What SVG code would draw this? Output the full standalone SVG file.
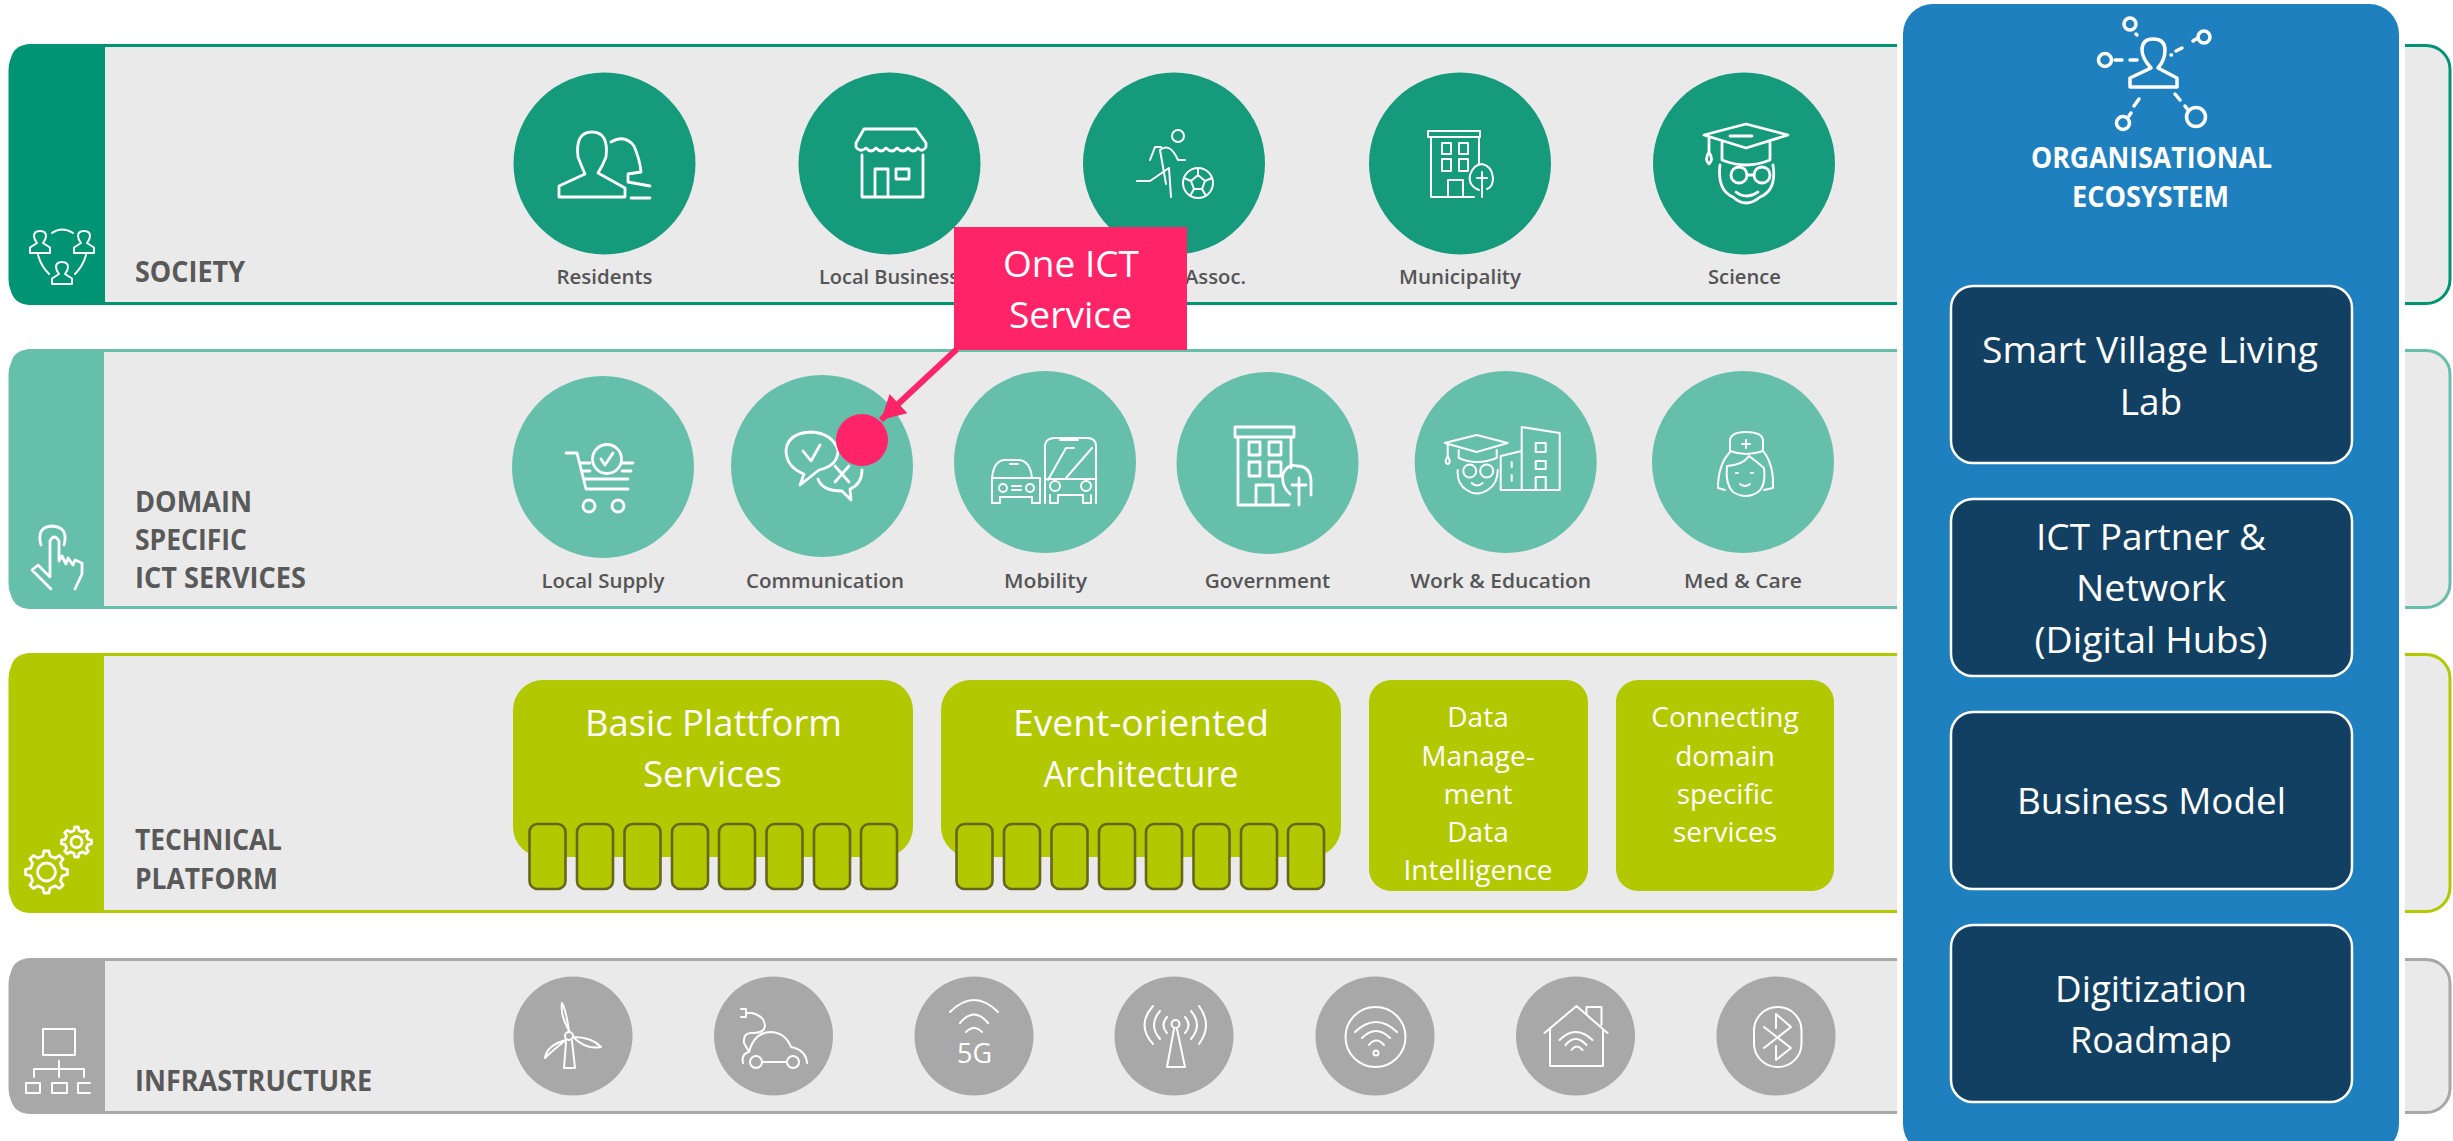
<svg xmlns="http://www.w3.org/2000/svg" xmlns:xlink="http://www.w3.org/1999/xlink" width="2453" height="1141" viewBox="0 0 2453 1141">
<style>
text{font-family:"Open Sans","Noto Sans","Liberation Sans",sans-serif}
.h{font-size:28px;font-weight:700;fill:#595959}
.l{font-size:20px;font-weight:600;fill:#555}
.l{text-anchor:middle}
.w{font-size:37px;fill:#fff;text-anchor:middle}
.s{font-size:28px;fill:#fff;text-anchor:middle}
.o{font-size:28px;font-weight:700;fill:#fff;text-anchor:middle}
.i{fill:none;stroke:#fff;stroke-width:2.8;stroke-linecap:round;stroke-linejoin:round}
.t{fill:none;stroke:#fff;stroke-width:2;stroke-linecap:round;stroke-linejoin:round}
.b{fill:none;stroke:#fff;stroke-width:3.5;stroke-linecap:round;stroke-linejoin:round}
.band{fill:#eaeaea;stroke-width:3}
.c1{fill:#169a7c}.c2{fill:#66bfab}.c4{fill:#a8a8a8}
.g{fill:#b2c800}
.tab{fill:#b2c800;stroke:#66661e;stroke-width:2.6}
.box{fill:#124063;stroke:#fff;stroke-width:2.5}
</style>
<defs>
<marker id="ah" markerUnits="userSpaceOnUse" markerWidth="28" markerHeight="28" refX="24" refY="13" orient="auto"><path d="M0 0L24 13L0 26Z" fill="#ff2368"/></marker>
<path id="gear" vector-effect="non-scaling-stroke" d="M-17-76L-12-100L12-100L17-76L42-66L62-79L79-62L66-42L76-17L100-12L100 12L76 17L66 42L79 62L62 79L42 66L17 76L12 100L-12 100L-17 76L-42 66L-62 79L-79 62L-66 42L-76 17L-100 12L-100-12L-76-17L-66-42L-79-62L-62-79L-42-66Z"/>
<path id="person" d="M-10 11V5.500L-3 1Q-6-3-6-6Q-6-11 0-11Q6-11 6-6Q6-3 3 1L10 5.500V11Z"/>
</defs>

<g id="band-society">
<rect class="band" x="10" y="45.500" width="2440" height="258" rx="24" stroke="#009474"/>
<path d="M105 44H32Q10 44 10 66V283Q10 305 32 305H105Z" fill="#009474"/>
<g class="t"><use xlink:href="#person" transform="translate(40,242)"/><use xlink:href="#person" transform="translate(84,242)"/><use xlink:href="#person" transform="translate(62,273)"/><path d="M52 233Q62 226 73 233M38 255Q41 266 49 274M86 255Q83 266 75 274"/></g>
<text class="h" x="135" y="282" textLength="110" lengthAdjust="spacingAndGlyphs">SOCIETY</text>
</g>
<g id="band-domain">
<rect class="band" x="10" y="350.500" width="2440" height="257" rx="24" stroke="#66bfab"/>
<path d="M104 349H32Q10 349 10 371V587Q10 609 32 609H104Z" fill="#66bfab"/>
<path class="i" d="M41 545Q36 527 52 526Q69 527 64 545M50 553V541Q54 533 59 541V561L62 556L66 564L68 558L73 565L75 560L82 563V574L75 589M51 589L32 570L38 565L50 577V553"/>
<text class="h" x="135" y="512" textLength="117" lengthAdjust="spacingAndGlyphs">DOMAIN</text>
<text class="h" x="135" y="550" textLength="112" lengthAdjust="spacingAndGlyphs">SPECIFIC</text>
<text class="h" x="135" y="588" textLength="171" lengthAdjust="spacingAndGlyphs">ICT SERVICES</text>
</g>
<g id="band-technical">
<rect class="band" x="10" y="654.500" width="2440" height="257" rx="24" stroke="#b2c800"/>
<path d="M104 653H32Q10 653 10 675V891Q10 913 32 913H104Z" fill="#b2c800"/>
<g class="i"><use xlink:href="#gear" transform="translate(46.500,872) scale(.21)"/><circle cx="46.500" cy="872" r="9"/><use xlink:href="#gear" transform="translate(76.500,842) scale(.15)"/><circle cx="76.500" cy="842" r="5.500"/></g>
<text class="h" x="135" y="850" textLength="147" lengthAdjust="spacingAndGlyphs">TECHNICAL</text>
<text class="h" x="135" y="889" textLength="143" lengthAdjust="spacingAndGlyphs">PLATFORM</text>
</g>
<g id="band-infrastructure">
<rect class="band" x="10" y="959.500" width="2440" height="153" rx="24" stroke="#a8a8a8"/>
<path d="M105 958H32Q10 958 10 980V1092Q10 1114 32 1114H105Z" fill="#a8a8a8"/>
<path class="t" d="M43 1029H75V1055H43ZM59 1061V1077M34 1077V1069H84V1077M26 1083H40V1093H26ZM52 1083H67V1093H52ZM90 1083H78V1093H90"/>
<text class="h" x="135" y="1091" textLength="237" lengthAdjust="spacingAndGlyphs">INFRASTRUCTURE</text>
</g>

<g id="residents"><circle class="c1" cx="604.500" cy="163.500" r="91"/>
<path class="i" d="M559 197V186L585 174Q581 165 578 157Q575 132 592 132Q609 132 606 157Q603 165 598 173L625 188V197ZM611 142Q625 134 634 146Q640 160 641 172L628 174V182L650 186M631 198H650"/>
<text class="l" x="604.500" y="284" textLength="96" lengthAdjust="spacingAndGlyphs">Residents</text></g>
<g id="local-business"><circle class="c1" cx="889.500" cy="163.500" r="91"/>
<path class="i" d="M864 129H916L926 143V147Q922 153 918 148Q913 154 908 148Q903 154 897 148Q892 154 886 148Q881 154 876 148Q871 154 866 148Q860 153 856 147V143ZM862 155V197H923V155M875 197V169H888V197M896 169H909V179H896Z"/>
<text class="l" x="889" y="284" textLength="140" lengthAdjust="spacingAndGlyphs">Local Business</text></g>
<g id="sports-assoc"><circle class="c1" cx="1174" cy="163.500" r="91"/>
<g class="t"><circle cx="1178" cy="136" r="6"/><path d="M1150 160L1155 147H1161M1166 184L1160 150Q1170 142 1178 160H1185M1137 181H1150L1169 168L1171 197"/><circle cx="1198" cy="183" r="15"/><path d="M1198 175L1191 181L1194 189H1202L1205 181ZM1198 175V168M1191 181L1184 178M1205 181L1212 178M1194 189L1190 196M1202 189L1206 196"/></g>
<text class="l" x="1215.500" y="284" textLength="61" lengthAdjust="spacingAndGlyphs">Assoc.</text></g>
<g id="municipality"><circle class="c1" cx="1460" cy="163.500" r="91"/>
<path class="t" d="M1428 131H1480V137H1428ZM1431 137V197H1474M1479 137V165M1442 143H1451V154H1442ZM1459 143H1468V154H1459ZM1442 159H1451V171H1442ZM1459 159H1468V171H1459ZM1448 197V180H1463V197M1482 197V172M1477 178H1487M1479 190Q1468 186 1470 175Q1474 164 1482 164Q1492 166 1493 178Q1493 187 1487 189"/>
<text class="l" x="1460" y="284" textLength="122" lengthAdjust="spacingAndGlyphs">Municipality</text></g>
<g id="science"><circle class="c1" cx="1744" cy="163.500" r="91"/>
<path class="i" d="M1704 135L1746 124L1788 135L1746 148ZM1709 138V152M1709 152Q1704 160 1709 164Q1714 160 1709 152ZM1722 143V160Q1746 170 1770 160V143M1730 136H1752M1720 165Q1717 190 1733 197Q1746 209 1760 197Q1777 190 1773 165M1747 175H1754M1736 192Q1746 200 1758 192"/>
<circle class="i" cx="1739" cy="175" r="8"/><circle class="i" cx="1762" cy="175" r="8"/>
<text class="l" x="1744.500" y="284" textLength="73" lengthAdjust="spacingAndGlyphs">Science</text></g>

<g id="local-supply"><circle class="c2" cx="603" cy="467" r="91"/>
<path class="i" d="M566 453H577L586 489H628M584 479H628M580 463H590M582 471H590M622 463H633M622 471H631"/>
<circle class="i" cx="607" cy="459" r="14.500"/><path class="i" d="M601 459L605 465L613 453"/><circle class="i" cx="589" cy="506" r="6"/><circle class="i" cx="618" cy="506" r="6"/>
<text class="l" x="603" y="588" textLength="123" lengthAdjust="spacingAndGlyphs">Local Supply</text></g>
<g id="communication"><circle class="c2" cx="822" cy="466" r="91"/>
<path class="i" d="M800 485L804 474Q786 467 786 450Q788 433 811 432Q832 433 838 450Q838 466 819 470ZM803 451L811 461L820 445M818 479Q822 491 842 491L851 500L850 489Q862 484 862 470M835 466L849 482M849 466L835 482"/>
<text class="l" x="825" y="588" textLength="158" lengthAdjust="spacingAndGlyphs">Communication</text></g>
<g id="mobility"><circle class="c2" cx="1045" cy="462" r="91"/>
<path class="t" d="M1045 503V445Q1046 438 1055 438H1087Q1096 438 1096 446V503M1045 479H1096M1048 480L1066 448H1074M1066 478L1092 448M1050 503V495M1091 503V495M1060 440H1078M1051 503H1058V495H1083V503H1091M992 478Q994 460 1005 460H1018Q1030 460 1032 478H1040V503H1032V497H1000V503H992ZM992 478H1032M1010 464H1018M1012 486H1021M1012 490H1021"/>
<circle class="t" cx="1055" cy="486" r="5"/><circle class="t" cx="1086" cy="486" r="5"/><circle class="t" cx="1003" cy="488" r="4"/><circle class="t" cx="1030" cy="488" r="4"/>
<text class="l" x="1045.500" y="588" textLength="83" lengthAdjust="spacingAndGlyphs">Mobility</text></g>
<g id="government"><circle class="c2" cx="1267.500" cy="463" r="91"/>
<path class="i" d="M1235 427H1294V437H1235ZM1238 437V505H1289M1291 437V468M1249 442H1260V455H1249ZM1269 442H1281V455H1269ZM1249 462H1260V476H1249ZM1269 462H1281V476H1269ZM1256 505V485H1273V505M1299 505V478M1292 485H1306M1290 494Q1281 486 1283 474Q1288 463 1297 466Q1310 466 1311 480V495"/>
<text class="l" x="1267.500" y="588" textLength="125.500" lengthAdjust="spacingAndGlyphs">Government</text></g>
<g id="work-education" transform="translate(-1.300,0)"><circle class="c2" cx="1507" cy="462" r="91"/>
<path class="t" d="M1446 443L1478 435L1509 443L1478 452ZM1449 445V456M1449 456Q1445 463 1449 464Q1453 463 1449 456ZM1460 450V458Q1478 466 1498 458V450M1459 470Q1458 484 1468 490Q1478 497 1489 490Q1499 484 1499 470M1473 483Q1478 488 1484 483M1502 490V456L1523 451M1502 490H1561V433L1523 427V490M1537 443H1547V452H1537ZM1537 461H1547V469H1537ZM1537 490V477H1547V490M1513 462V467M1513 475V481"/>
<circle class="t" cx="1471" cy="471" r="6.500"/><circle class="t" cx="1488" cy="471" r="6.500"/>
<text class="l" x="1502" y="588" textLength="181" lengthAdjust="spacingAndGlyphs">Work &amp; Education</text></g>
<g id="med-care" transform="translate(-2,0)"><circle class="c2" cx="1745" cy="462" r="91"/>
<path class="t" d="M1732 451V441Q1732 432 1748 432Q1765 432 1765 441V451Q1748 457 1732 451ZM1748 440V448M1744 444H1752M1732 452Q1720 465 1720 488L1727 490M1766 452Q1776 465 1775 488L1766 490M1729 466Q1745 465 1751 456Q1758 461 1766 468Q1768 486 1760 492Q1748 500 1735 492Q1727 484 1729 466ZM1738 473H1740M1753 473H1755M1742 484Q1747 488 1752 484"/>
<text class="l" x="1745" y="588" textLength="118" lengthAdjust="spacingAndGlyphs">Med &amp; Care</text></g>

<g id="basic-platform">
<rect class="g" x="513" y="680" width="400" height="177" rx="30"/>
<g id="tabs1"><rect class="tab" x="529.500" y="824" width="36" height="65" rx="8"/><rect class="tab" x="577" y="824" width="36" height="65" rx="8"/><rect class="tab" x="624.500" y="824" width="36" height="65" rx="8"/><rect class="tab" x="672" y="824" width="36" height="65" rx="8"/><rect class="tab" x="719" y="824" width="36" height="65" rx="8"/><rect class="tab" x="766.500" y="824" width="36" height="65" rx="8"/><rect class="tab" x="814" y="824" width="36" height="65" rx="8"/><rect class="tab" x="861" y="824" width="36" height="65" rx="8"/></g>
<text class="w" x="713.500" y="736" textLength="257" lengthAdjust="spacingAndGlyphs">Basic Plattform</text>
<text class="w" x="712.500" y="787" textLength="139" lengthAdjust="spacingAndGlyphs">Services</text></g>
<g id="event-architecture">
<rect class="g" x="941" y="680" width="400" height="177" rx="30"/>
<g id="tabs2"><rect class="tab" x="956.500" y="824" width="36" height="65" rx="8"/><rect class="tab" x="1004" y="824" width="36" height="65" rx="8"/><rect class="tab" x="1051.500" y="824" width="36" height="65" rx="8"/><rect class="tab" x="1099" y="824" width="36" height="65" rx="8"/><rect class="tab" x="1146" y="824" width="36" height="65" rx="8"/><rect class="tab" x="1193.500" y="824" width="36" height="65" rx="8"/><rect class="tab" x="1241" y="824" width="36" height="65" rx="8"/><rect class="tab" x="1288" y="824" width="36" height="65" rx="8"/></g>
<text class="w" x="1141" y="736" textLength="256" lengthAdjust="spacingAndGlyphs">Event-oriented</text>
<text class="w" x="1141" y="787" textLength="195" lengthAdjust="spacingAndGlyphs">Architecture</text></g>
<g id="data-management">
<rect class="g" x="1369" y="680" width="219" height="211" rx="22"/>
<text class="s" x="1478" y="727">Data</text><text class="s" x="1478" y="766">Manage-</text><text class="s" x="1478" y="804">ment</text><text class="s" x="1478" y="842">Data</text><text class="s" x="1478" y="880">Intelligence</text></g>
<g id="connecting-services">
<rect class="g" x="1616" y="680" width="218" height="211" rx="22"/>
<text class="s" x="1725" y="727">Connecting</text><text class="s" x="1725" y="766">domain</text><text class="s" x="1725" y="804">specific</text><text class="s" x="1725" y="842">services</text></g>

<g id="wind"><circle class="c4" cx="573" cy="1036" r="59.500"/>
<path class="t" d="M569 1031Q560 1015 562 1003Q566 1010 569 1031M573 1037Q592 1037 601 1047Q586 1050 573 1037M566 1040Q553 1050 545 1058Q547 1045 566 1040M566 1042L564 1068H575L572 1041M564 1068H575"/><circle class="t" cx="569" cy="1036" r="4"/></g>
<g id="ev"><circle class="c4" cx="773.500" cy="1036" r="59.500"/>
<path class="t" d="M741 1009H746V1017H741M746 1013H752Q764 1016 765 1025Q765 1034 750 1033Q743 1034 744 1043L748 1050M743 1063Q741 1054 749 1052Q754 1033 770 1032Q785 1032 791 1047Q806 1050 807 1063M762 1062H787"/><circle class="t" cx="756" cy="1062" r="6"/><circle class="t" cx="793" cy="1062" r="6"/></g>
<g id="five-g"><circle class="c4" cx="974" cy="1036" r="59.500"/>
<path class="t" d="M950 1012Q974 988 998 1012M960 1023Q974 1006 988 1023M966 1032Q974 1024 982 1032"/>
<text x="974.500" y="1063" font-size="27" fill="#fff" text-anchor="middle" textLength="35" lengthAdjust="spacingAndGlyphs">5G</text></g>
<g id="antenna"><circle class="c4" cx="1174" cy="1036" r="59.500"/>
<path class="t" d="M1174 1029L1167 1067H1185L1177 1029M1153 1006Q1136 1025 1153 1044M1160 1011Q1148 1025 1160 1039M1167 1017Q1160 1025 1167 1033M1199 1006Q1213 1025 1199 1044M1191 1011Q1203 1025 1191 1039M1185 1017Q1192 1025 1185 1033"/><circle class="t" cx="1175.500" cy="1024" r="4"/></g>
<g id="wifi-disc" transform="translate(-1,0)"><circle class="c4" cx="1376" cy="1036" r="59.500"/>
<circle class="t" cx="1376.500" cy="1037" r="30"/><path class="t" d="M1356 1032Q1377 1012 1398 1032M1363 1038Q1377 1024 1391 1038M1370 1045Q1377 1036 1385 1045"/><circle class="t" cx="1377" cy="1053" r="2.500"/></g>
<g id="smart-home" transform="translate(-1.500,0)"><circle class="c4" cx="1577" cy="1036" r="59.500"/>
<path class="t" d="M1546 1033L1578 1006L1609 1033M1551.500 1029V1066H1604.500V1029M1588 1014V1007H1603V1025M1561 1040Q1577 1024 1594 1040M1567 1045Q1577 1033 1588 1045M1573 1050Q1578 1043 1584 1050"/></g>
<g id="bluetooth" transform="translate(-2,0)"><circle class="c4" cx="1778" cy="1036" r="59.500"/>
<rect class="t" x="1756" y="1007" width="47.500" height="60" rx="23.500"/><path class="t" d="M1766 1027L1793 1048L1778 1060V1046M1766 1048L1793 1027L1778 1014V1028"/></g>

<g id="connectors"><line x1="957" y1="349" x2="881" y2="420" stroke="#ff2368" stroke-width="6" marker-end="url(#ah)"/></g>
<g id="service-marker"><circle cx="862" cy="440" r="26" fill="#ff2368"/></g>
<g id="one-ict-service"><rect x="954" y="227" width="233" height="123" fill="#ff2368"/>
<text class="w" x="1071" y="277" textLength="136" lengthAdjust="spacingAndGlyphs">One ICT</text>
<text class="w" x="1070.500" y="328" textLength="123" lengthAdjust="spacingAndGlyphs">Service</text></g>

<g id="organisational-ecosystem">
<rect x="1903" y="4" width="496" height="1150" rx="30" fill="#1f80c0" stroke="#fff" stroke-width="12" style="paint-order:stroke"/>
<g id="org-icon" class="b"><path d="M2130 87V78L2151 68Q2142 58 2142 50Q2142 39 2153 39Q2165 39 2165 50Q2165 60 2158 68L2177 78V87Z"/><circle cx="2130" cy="24" r="6"/><path d="M2136 34L2137 35M2176 51L2182 48M2171 55H2171.500M2193 41L2196 39M2115 60H2122M2130 60H2137M2139 99L2134 106M2131 113L2129 116M2175 94L2180 100M2185 106L2188 110"/><circle cx="2204" cy="37" r="6"/><circle cx="2105" cy="60" r="6.500"/><circle cx="2123" cy="123" r="6.500"/><circle cx="2196" cy="117" r="9.500"/></g>
<text class="o" x="2151.500" y="168" textLength="241" lengthAdjust="spacingAndGlyphs">ORGANISATIONAL</text>
<text class="o" x="2150.500" y="207" textLength="157" lengthAdjust="spacingAndGlyphs">ECOSYSTEM</text>
</g>
<g id="living-lab"><rect class="box" x="1951" y="286" width="401" height="177" rx="22"/>
<text class="w" x="2150" y="363" textLength="336" lengthAdjust="spacingAndGlyphs">Smart Village Living</text><text class="w" x="2151" y="415">Lab</text></g>
<g id="ict-partner"><rect class="box" x="1951" y="499" width="401" height="177" rx="22"/>
<text class="w" x="2151" y="550" textLength="230" lengthAdjust="spacingAndGlyphs">ICT Partner &amp;</text><text class="w" x="2151" y="601" textLength="150" lengthAdjust="spacingAndGlyphs">Network</text><text class="w" x="2151" y="653" textLength="233" lengthAdjust="spacingAndGlyphs">(Digital Hubs)</text></g>
<g id="business-model"><rect class="box" x="1951" y="712" width="401" height="177" rx="22"/>
<text class="w" x="2151.500" y="814" textLength="269" lengthAdjust="spacingAndGlyphs">Business Model</text></g>
<g id="digitization-roadmap"><rect class="box" x="1951" y="925" width="401" height="177" rx="22"/>
<text class="w" x="2151" y="1002" textLength="192" lengthAdjust="spacingAndGlyphs">Digitization</text><text class="w" x="2151" y="1053" textLength="162" lengthAdjust="spacingAndGlyphs">Roadmap</text></g>
</svg>
